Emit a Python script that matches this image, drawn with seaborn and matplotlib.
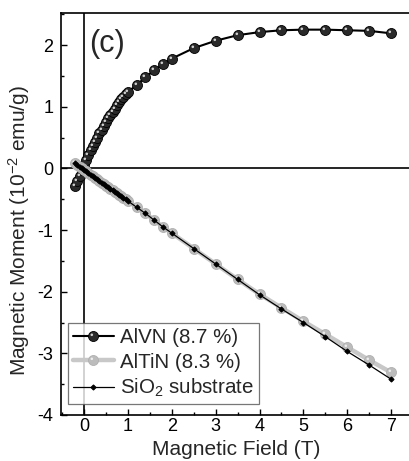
import numpy as np
import pandas as pd
import matplotlib
matplotlib.use("Agg")
import matplotlib.pyplot as plt
from matplotlib.path import Path
from matplotlib.legend_handler import HandlerTuple
from matplotlib.ticker import MultipleLocator
import seaborn as sns

# field grid (T)
field = [-0.2, -0.15, -0.1, -0.05, 0.0, 0.05, 0.1, 0.15, 0.2, 0.25, 0.3, 0.35, 0.4,
         0.45, 0.5, 0.55, 0.6, 0.65, 0.7, 0.75, 0.8, 0.85, 0.9, 0.95, 1.0,
         1.2, 1.4, 1.6, 1.8, 2.0, 2.5, 3.0, 3.5, 4.0, 4.5, 5.0, 5.5, 6.0, 6.5, 7.0]

# magnetic moment (10^-2 emu/g)
alvn = [-0.29, -0.20, -0.12, -0.03, 0.05, 0.13, 0.21, 0.29, 0.36, 0.43, 0.50, 0.57, 0.63,
        0.69, 0.75, 0.81, 0.87, 0.92, 0.97, 1.02, 1.07, 1.12, 1.16, 1.20, 1.24,
        1.35, 1.48, 1.59, 1.69, 1.78, 1.95, 2.07, 2.16, 2.21, 2.24, 2.25, 2.25, 2.24, 2.23, 2.19]
altin = [0.09, 0.06, 0.03, 0.00, -0.03, -0.05, -0.08, -0.10, -0.13, -0.15, -0.18, -0.20, -0.23,
         -0.25, -0.28, -0.30, -0.33, -0.35, -0.38, -0.40, -0.43, -0.45, -0.48, -0.50, -0.53,
         -0.63, -0.73, -0.84, -0.95, -1.05, -1.30, -1.55, -1.80, -2.04, -2.26, -2.48, -2.69, -2.90, -3.11, -3.31]
sio2 = [0.09, 0.06, 0.03, 0.00, -0.03, -0.05, -0.08, -0.10, -0.13, -0.15, -0.18, -0.20, -0.23,
        -0.25, -0.28, -0.30, -0.33, -0.35, -0.38, -0.40, -0.43, -0.45, -0.48, -0.50, -0.53,
        -0.63, -0.73, -0.84, -0.95, -1.05, -1.30, -1.55, -1.80, -2.05, -2.28, -2.50, -2.73, -2.97, -3.19, -3.42]

labels = ["AlVN (8.7 %)", "AlTiN (8.3 %)", "SiO$_2$ substrate"]

df = pd.DataFrame({"field": field, "AlVN": alvn, "AlTiN": altin, "SiO2": sio2})

sns.set_style("ticks")
plt.rcParams["font.family"] = ["Liberation Sans", "DejaVu Sans"]
plt.rcParams["mathtext.default"] = "regular"
plt.rcParams["axes.unicode_minus"] = False
plt.rcParams["xtick.direction"] = "in"
plt.rcParams["ytick.direction"] = "in"

fig = plt.figure(figsize=(4.1, 4.61), dpi=100)
ax = fig.add_axes([0.150, 0.0998, 0.85, 0.8720])

# small off-centre circle used as a highlight on the sphere markers
hl = Path.circle(center=(-0.17, 0.17), radius=0.13)
hl_scale = np.max(np.abs(hl.vertices)) / 0.5

ms = 7.2
sns.lineplot(data=df, x="field", y="AlVN", ax=ax, color="black", lw=1.5,
             marker="o", markersize=ms, markerfacecolor="#2a2a2a",
             markeredgecolor="black", markeredgewidth=0.6)
h1, = ax.plot(field, alvn, ls="none", marker=hl, ms=ms * hl_scale,
              mfc="#cfcfcf", mec="none")

sns.lineplot(data=df, x="field", y="AlTiN", ax=ax, color="#c8c8c8", lw=3.2,
             marker="o", markersize=ms, markerfacecolor="#bcbcbc",
             markeredgecolor="#b0b0b0", markeredgewidth=0.6)
h2, = ax.plot(field, altin, ls="none", marker=hl, ms=ms * hl_scale,
              mfc="#ededed", mec="none")

sns.lineplot(data=df, x="field", y="SiO2", ax=ax, color="black", lw=0.9,
             marker="D", markersize=2.6, markerfacecolor="black",
             markeredgecolor="black")

lines = ax.get_lines()
l1 = [l for l in lines if l.get_color() == "black" and l.get_marker() == "o"][0]
l2 = [l for l in lines if l.get_color() == "#c8c8c8"][0]
l3 = [l for l in lines if l.get_marker() == "D"][0]

ax.axhline(0, color="black", lw=1.2, zorder=0)
ax.axvline(0, color="black", lw=1.2, zorder=0)

ax.set_xlim(-0.513, 7.43)
ax.set_ylim(-4, 2.52)
ax.xaxis.set_major_locator(MultipleLocator(1))
ax.xaxis.set_minor_locator(MultipleLocator(0.5))
ax.yaxis.set_major_locator(MultipleLocator(1))
ax.yaxis.set_minor_locator(MultipleLocator(0.5))
ax.tick_params(which="major", length=4, width=1, labelsize=13, color="black", labelcolor="black")
ax.tick_params(which="minor", length=2.5, width=1, color="black")
ax.tick_params(axis="x", which="major", pad=2.5)
ax.tick_params(axis="y", which="major", pad=6)
for s in ["left", "bottom", "top"]:
    ax.spines[s].set_linewidth(1.2)
    ax.spines[s].set_color("black")
ax.spines["right"].set_visible(False)

ax.set_xlabel("Magnetic Field (T)", fontsize=15, labelpad=3)
ax.set_ylabel("Magnetic Moment (10$^{-2}$ emu/g)", fontsize=15)
ax.yaxis.set_label_coords(-0.085, 0.458)

ax.text(0.078, 0.922, "(c)", transform=ax.transAxes, fontsize=22, va="center", ha="left")

leg = ax.legend([(l1, h1), (l2, h2), l3], labels,
                handler_map={tuple: HandlerTuple(ndivide=1)},
                loc="lower left", bbox_to_anchor=(0.018, 0.027), borderaxespad=0,
                fontsize=14.8, frameon=True, fancybox=False, numpoints=1,
                handlelength=2.0, handletextpad=0.3, labelspacing=0.25,
                borderpad=0.25)
leg.get_frame().set_edgecolor("#555555")
leg.get_frame().set_linewidth(0.9)

fig.savefig("out.png", dpi=100)
